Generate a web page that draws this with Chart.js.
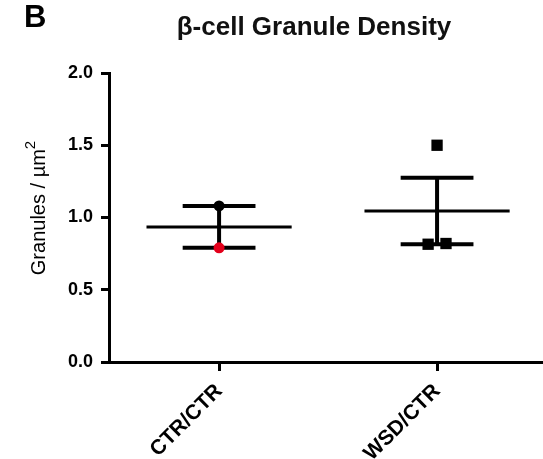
<!DOCTYPE html>
<html>
<head>
<meta charset="utf-8">
<script src="https://cdn.jsdelivr.net/npm/chart.js@4"></script>
<style>
	body { margin: 0; background: #fff; }
	#wrap { position: relative; width: 543px; height: 459px; }
	#panel { position: absolute; left: 24px; top: 1px; font: bold 31px Arial, "Liberation Sans", sans-serif; line-height: 31px; color: #000; }
	#title { position: absolute; left: 114px; width: 400px; top: 13px; text-align: center; font: bold 26px Arial, "Liberation Sans", sans-serif; line-height: 26px; color: #111; }
	#ytitle { position: absolute; left: -62px; top: 196px; width: 200px; height: 24px; text-align: center; font: 20px Arial, "Liberation Sans", sans-serif; line-height: 24px; color: #000; transform: rotate(-90deg); }
	#ytitle sup { font-size: 15px; line-height: 0; position: relative; top: -2px; }
	canvas { position: absolute; left: 0; top: 0; }
</style>
</head>
<body>
<div id="wrap">
	<canvas id="mycanvas" width="543" height="459"></canvas>
	<div id="panel">B</div>
	<div id="title">β-cell Granule Density</div>
	<div id="ytitle">Granules / µm<sup>2</sup></div>
</div>
<script>
var categories = ["CTR/CTR", "WSD/CTR"];
var yTicks = [0.0, 0.5, 1.0, 1.5, 2.0];

// individual animals
var ctrValues = [1.08, 0.79];
var ctrJitter = [0, 0];
var ctrColors = ["#000000", "#e3001b"];
var wsdValues = [1.50, 0.82, 0.815];
var wsdJitter = [0, 0.041, -0.041];

// mean and SEM
var means = [0.935, 1.045];
var errLow = [0.79, 0.815];
var errHigh = [1.08, 1.275];

function segment(x1, y1, x2, y2, w){
	return {
		data: [{x: x1, y: y1}, {x: x2, y: y2}],
		showLine: true,
		borderColor: "#000",
		borderWidth: w,
		pointRadius: 0,
		fill: false
	};
}

var datasets = [];
datasets.push({
	label: categories[0],
	data: ctrValues.map(function(v, i){ return {x: 0 + ctrJitter[i], y: v}; }),
	pointStyle: "circle",
	pointRadius: 5.5,
	backgroundColor: ctrColors,
	borderColor: ctrColors,
	borderWidth: 0
});
datasets.push({
	label: categories[1],
	data: wsdValues.map(function(v, i){ return {x: 1 + wsdJitter[i], y: v}; }),
	pointStyle: "rect",
	pointRadius: 8,
	backgroundColor: "#000",
	borderColor: "#000",
	borderWidth: 0
});
for (var g = 0; g < categories.length; g++){
	datasets.push(segment(g, errLow[g], g, errHigh[g], 4));
	datasets.push(segment(g - 0.167, errHigh[g], g + 0.167, errHigh[g], 4));
	datasets.push(segment(g - 0.167, errLow[g], g + 0.167, errLow[g], 4));
	datasets.push(segment(g - 0.333, means[g], g + 0.333, means[g], 3));
}

var font = 'Arial, "Liberation Sans", sans-serif';
var ctx = document.getElementById("mycanvas");
var chart = new Chart(ctx, {
	type: "scatter",
	data: { datasets: datasets },
	options: {
		responsive: false,
		animation: false,
		devicePixelRatio: 1,
		layout: { autoPadding: false, padding: { top: 73, right: 0, left: 0, bottom: 0 } },
		plugins: { legend: { display: false }, tooltip: { enabled: false } },
		scales: {
			x: {
				type: "linear",
				min: -0.505,
				max: 1.486,
				afterBuildTicks: function(scale){
					scale.ticks = categories.map(function(c, i){ return {value: i}; });
				},
				afterFit: function(scale){
					scale.height = 97;
					scale.paddingLeft = 0;
					scale.paddingRight = 0;
				},
				ticks: {
					callback: function(v){ return categories[v]; },
					minRotation: 45,
					maxRotation: 45,
					padding: 8,
					color: "#000",
					font: { family: font, size: 21, weight: "bold" }
				},
				grid: { drawOnChartArea: false, drawTicks: true, tickLength: 9, tickWidth: 3, tickColor: "#000" },
				border: { display: true, color: "#000", width: 3 }
			},
			y: {
				min: 0,
				max: 2,
				afterBuildTicks: function(scale){
					scale.ticks = yTicks.map(function(v){ return {value: v}; });
				},
				afterFit: function(scale){ scale.width = 109; },
				ticks: {
					callback: function(v){ return v.toFixed(1); },
					padding: 8,
					color: "#000",
					font: { family: font, size: 18, weight: "bold" }
				},
				grid: { drawOnChartArea: false, drawTicks: true, tickLength: 8, tickWidth: 3, tickColor: "#000" },
				border: { display: true, color: "#000", width: 3 }
			}
		}
	}
});
</script>
</body>
</html>
